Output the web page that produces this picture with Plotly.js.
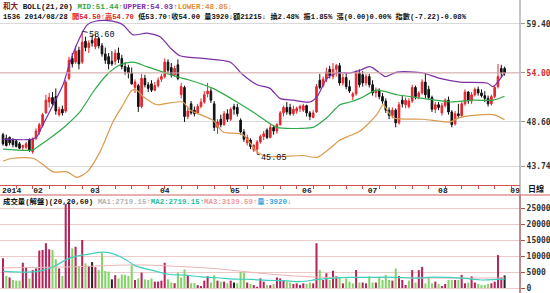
<!DOCTYPE html>
<html><head><meta charset="utf-8">
<script src="https://cdn.plot.ly/plotly-3.0.1.min.js"></script>
<style>html,body{margin:0;padding:0;background:#fff}#c{width:550px;height:293px}</style>
</head><body><div id="c"></div>
<script>
// ---- data ----
const OPEN  = [47.2,46.8,46.9,46.6,46.5,46.2,45.8,45.8,46.6,45.3, 46.8,47.5,48.2,49.6,50.8,51.3,51.4,49.4,50.0,49.8,
  53.4,55.6,55.2,56.5,55.2,57.5,56.8,57.6,56.9,57.8, 57.0,56.1,55.8,55.3,55.3,56.2,55.6,54.7,54.6,54.0,
  52.4,52.6,50.3,53.4,52.7,52.8,52.1,52.6,53.3,53.6, 55.2,54.6,53.8,54.9,51.6,52.4,49.2,50.6,49.9,49.6,
  50.3,50.8,51.7,52.0,50.6,48.0,48.9,48.3,49.5,48.9, 50.3,50.2,48.8,47.5,46.3,46.6,45.5,45.6,46.4,47.0,
  47.7,46.9,48.0,47.6,48.3,49.6,50.2,50.2,49.5,49.8, 50.1,49.9,50.4,49.6,49.1,49.7,53.2,52.6,53.3,54.4,
  53.6,54.4,54.8,52.9,53.5,52.5,51.4,51.7,54.0,53.8, 52.9,53.6,52.7,51.8,52.1,51.4,50.9,49.9,49.3,49.9,
  48.5,51.0,50.5,50.3,50.9,52.4,51.4,51.8,53.0,52.2, 51.3,50.0,50.5,49.6,50.4,51.0,49.7,48.4,49.5,49.3,
  50.6,51.9,50.9,51.6,52.2,51.8,51.5,51.2,50.6,51.4, 52.5,54.5,54.5];
const HIGH  = [47.4,47.2,47.0,46.8,46.7,46.4,46.1,46.4,46.8,46.9, 47.9,48.5,49.6,51.6,51.8,51.9,52.3,50.3,50.4,53.2,
  55.8,56.2,57.0,56.9,58.6,58.0,57.6,58.2,58.3,58.0, 57.3,56.8,56.2,56.4,56.6,56.8,56.0,55.2,54.9,54.6,
  53.3,52.8,53.9,53.8,53.0,53.2,53.0,53.5,53.9,55.6, 55.5,55.1,54.8,55.5,52.9,52.6,50.3,50.9,50.3,50.6,
  51.2,52.0,52.9,52.3,50.9,48.9,49.4,49.8,50.0,50.2, 50.6,50.6,49.0,47.8,47.2,46.8,46.2,46.6,47.2,47.6,
  47.9,48.4,48.2,48.5,49.8,50.4,50.8,50.6,50.4,50.3, 50.5,50.6,50.5,49.8,49.9,52.8,53.9,53.6,54.6,54.8,
  55.1,55.0,55.1,53.9,54.0,53.2,51.9,54.3,54.4,54.2, 53.9,53.9,53.2,52.4,52.3,51.8,51.2,50.2,50.2,50.1,
  50.8,51.5,51.3,51.2,52.7,52.6,52.0,53.3,54.0,52.6, 51.5,50.8,50.8,50.7,51.2,51.4,49.9,49.8,50.6,50.8,
  52.2,52.0,51.9,52.4,52.5,52.2,52.0,51.5,51.6,52.6, 55.0,54.9,54.7];
const LOW   = [46.0,45.9,46.0,45.8,45.8,45.6,45.5,45.6,45.3,45.1, 46.6,47.2,48.0,49.5,50.2,50.4,49.4,49.2,49.3,49.6,
  53.2,54.6,55.0,54.4,55.0,56.4,56.2,56.9,56.6,56.7, 55.8,55.0,54.4,54.8,54.9,55.1,54.4,53.8,53.4,52.7,
  51.8,49.7,50.1,52.4,51.9,51.9,52.0,52.4,53.0,53.4, 54.0,53.5,53.6,53.2,51.2,48.6,48.9,49.4,49.2,49.5,
  50.1,50.6,51.3,50.7,47.6,47.3,48.0,48.2,48.6,48.7, 49.4,49.2,47.2,46.4,46.0,45.6,45.3,45.05,46.2,46.6,
  46.7,46.8,47.2,47.3,48.2,49.2,49.4,49.3,49.3,49.5, 49.7,49.7,49.2,48.8,49.0,49.6,52.2,52.4,53.0,53.4,
  53.3,53.6,52.6,52.6,52.2,51.8,51.0,51.5,52.4,52.5, 52.6,52.4,51.5,51.3,51.1,50.6,49.6,48.9,49.0,48.0,
  48.3,50.2,50.1,50.1,50.7,51.1,51.1,51.6,51.2,51.0, 49.7,49.6,49.9,49.3,50.2,49.4,48.0,48.2,49.0,49.1,
  50.4,50.6,50.6,51.4,51.5,51.3,50.8,50.3,50.4,51.2, 52.3,53.5,53.7];
const CLOSE = [46.2,46.0,46.3,46.1,45.9,45.7,46.0,46.2,45.5,46.7, 47.6,48.3,49.4,51.0,51.3,50.6,49.8,50.0,49.6,53.0,
  55.4,55.0,56.4,55.0,57.4,56.8,57.3,57.3,57.8,57.0, 56.1,55.4,55.0,55.0,56.2,55.5,54.7,54.2,54.0,52.8,
  53.0,50.3,53.4,52.7,52.3,52.1,52.6,53.2,53.6,55.2, 54.3,53.8,54.5,53.4,52.5,49.2,49.8,49.6,49.5,50.3,
  50.8,51.6,52.0,51.0,48.0,48.6,48.3,49.5,48.9,50.0, 50.0,49.5,47.5,46.7,46.9,45.9,46.0,46.4,47.0,47.3,
  46.9,48.0,47.6,48.3,49.6,50.2,49.7,49.5,50.0,50.1, 50.3,50.4,49.6,49.2,49.6,52.5,52.4,53.3,54.1,53.7,
  54.4,54.8,52.9,53.5,52.5,52.0,51.7,54.0,52.7,52.9, 53.6,52.7,51.8,52.1,51.4,50.9,49.9,49.3,49.9,48.5,
  50.5,50.6,51.0,50.9,52.4,51.4,51.8,53.0,51.6,51.3, 50.0,50.5,50.2,50.4,51.0,49.7,48.3,49.5,49.3,50.6,
  51.9,50.9,51.6,52.2,51.8,51.5,51.2,50.6,51.4,52.4, 53.6,54.0,54.0];
const VOLUME = [9300,3750,3300,2500,2300,2300,7900,6500,3000,5600,
  6100,11700,11900,14000,12100,11900,9000,6100,3750,26300,
  26700,12400,12900,6900,15000,7700,6900,8100,6500,5600,
  11000,5300,5100,2700,4000,3000,4200,4100,3750,7100,
  2500,3000,4800,2700,2500,3000,2000,2000,2300,7900,
  2700,1700,1500,4800,3300,5800,4000,1500,1500,900,
  600,2300,3700,1700,4000,2300,2000,2000,1500,2300,
  1700,1500,5000,4800,1700,1300,900,400,3000,2000,
  900,900,1200,
  3300,3000,2500,2000,1700,1250,1450,950,1450,1250,
  1700,1450,14000,5600,2500,4600,2500,5400,3650,3300,
  1450,3000,2000,1450,5600,1700,1700,1450,3650,1700,
  1700,3300,2500,4100,2500,2300,6100,3750,2500,950,
  2300,5600,1700,5600,6600,1450,3300,1450,2000,1250,
  600,1250,2500,2500,2500,2500,4100,1450,1700,3650,
  1700,1250,950,950,1250,1450,2000,10300,3300,3920];
// Bollinger band readings (day index, value)
const UPPER_X = [0,9,10.3,12.1,15.2,18.2,20.3,23.3,25.5,27.9,30.9,34.5,36.4,39.4,43.6,47.6,50.6,53.6,60.6,68.8,72.7,77,80.9,83.9,87.9,93,95.2,98.2,101.2,105.2,108.2,111.2,114.2,115.8,119.4,127.3,132.4,138.5,146.7,148.5,152];
const UPPER_Y = [46.7,46.7,47.0,48.3,50.5,52.7,55.2,57.9,59.3,59.7,59.8,59.6,59.3,58.2,58.4,58.0,56.8,55.9,55.6,55.2,53.8,52.7,52.3,51.2,51.0,50.8,51.4,53.4,54.0,54.0,54.3,54.7,54.0,53.6,54.1,54.0,53.4,53.0,52.9,52.5,54.03];
const MID_X = [0,9,10.3,14.2,19.4,23.3,27.3,31.5,35.5,39.4,43.6,50,53.6,56.7,63.6,70.9,77,83,90.9,93.9,98.2,102.1,105.2,108.2,113.3,119.4,127.3,135.5,142.4,148.5,152];
const MID_Y = [45.6,45.5,45.8,46.8,48.3,49.7,51.9,53.8,54.9,55.2,54.7,53.9,53.5,53.2,52.3,50.8,49.4,48.0,47.9,48.0,49.1,50.5,50.8,51.2,52.1,51.6,51.2,50.8,51.0,51.0,51.44];
const LOWER_X = [0,3,9.1,12.1,15.2,19.4,22.4,25.5,29.4,33.3,36.4,39.1,40.6,42.4,46.7,50.6,54.5,56.7,63.6,66.7,72.7,77,80,90.9,95.2,99.1,102.1,105.2,108.2,113.3,115.2,117.3,118.8,127.3,135.5,138.5,148.5,152];
const LOWER_Y = [44.3,44.6,44.6,43.9,43.1,43.1,42.5,43.1,45.3,48.6,50.5,52.1,52.1,51.4,50.5,50.7,50.8,49.9,48.8,47.5,47.2,45.3,44.8,44.9,44.7,45.7,46.6,47.1,47.6,49.4,50.5,49.4,49.0,48.9,48.6,49.1,49.4,48.85];
// volume moving-average readings
const MA20_X = [0,5,10,15,19,22,26,30,33,37,40,45,50,55,60,65,70,75,80,85,90,95,100,105,110,115,120,125,130,135,140,145,150,152];
const MA20_Y = [5300,5000,5100,6500,8800,9900,10600,11200,10800,9000,7000,5600,4300,4000,3500,3200,2800,2700,2400,2300,2000,2600,3100,3300,3300,3400,3300,3100,3400,3300,3000,2500,2700,2719];
const MA60_X = [0,20,40,50,65,80,95,110,130,152];
const MA60_Y = [6300,6600,7200,6900,6000,4400,3400,3300,3100,3140];
// axis labels
const PRICE_TICKS = [43.74,48.60,54.00,59.40];
const VOL_TICKS = [0,5000,10000,15000,20000,25000];
const MONTH_POS = [2.6,10.6,27.9,49,70.3,92.1,112,133.3,155.2];
const MONTH_TEXT = ['2014','02','03','04','05','06','07','08','09'];

// ---- build ----
const X = CLOSE.map((_, i) => i);
const volColor = CLOSE.map((c, i) => {
  if (i === 0) return '#b5245a';
  if (c > CLOSE[i-1]) return '#b5245a';
  if (c < CLOSE[i-1]) return '#84d26a';
  return '#222222';
});
const MONO = "'Liberation Mono','Noto Sans CJK TC',monospace";
const traces = [
  {type:'scatter', mode:'lines', x:UPPER_X, y:UPPER_Y, line:{color:'#7b2fa6', width:1.2, shape:'spline', smoothing:0.7}, xaxis:'x', yaxis:'y'},
  {type:'scatter', mode:'lines', x:MID_X, y:MID_Y, line:{color:'#2faa48', width:1.2, shape:'spline', smoothing:0.7}, xaxis:'x', yaxis:'y'},
  {type:'scatter', mode:'lines', x:LOWER_X, y:LOWER_Y, line:{color:'#d99a4e', width:1.2, shape:'spline', smoothing:0.7}, xaxis:'x', yaxis:'y'},
  {type:'candlestick', x:X, open:OPEN, high:HIGH, low:LOW, close:CLOSE, xaxis:'x', yaxis:'y',
   increasing:{line:{color:'#e4262f', width:1}, fillcolor:'#e4262f'},
   decreasing:{line:{color:'#111111', width:1}, fillcolor:'#111111'}, whiskerwidth:0},
  {type:'bar', x:X, y:VOLUME, marker:{color:volColor, line:{width:0}}, width:0.62, xaxis:'x', yaxis:'y2'},
  {type:'scatter', mode:'lines', x:MA60_X, y:MA60_Y, line:{color:'#ebb4b4', width:1, shape:'spline'}, xaxis:'x', yaxis:'y2'},
  {type:'scatter', mode:'lines', x:MA20_X, y:MA20_Y, line:{color:'#3fd0be', width:1.2, shape:'spline'}, xaxis:'x', yaxis:'y2'}
];
const py = p => 1 - p/293;
const px = p => p/520;
const sp = (c, t) => '<span style="color:' + c + '">' + t + '</span>';
const annotations = [
  {xref:'paper', yref:'paper', x:px(1), y:py(6), xanchor:'left', yanchor:'middle', showarrow:false,
   font:{family:MONO, size:7.6, color:'#111', weight:'bold'},
   text: sp('#8b1a1a','和大') + ' BOLL(21,20) ' + sp('#2faa48','MID:51.44↑') + sp('#7b2fa6','UPPER:54.03↑') + sp('#e0903a','LOWER:48.85↓')},
  {xref:'paper', yref:'paper', x:px(1), y:py(16), xanchor:'left', yanchor:'middle', showarrow:false,
   font:{family:MONO, size:7.2, color:'#111', weight:'bold'},
   text: '1536 2014/08/28 ' + sp('#e02020','開54.50↑高54.70') + ' 低53.70↑收54.00 量3920↓額21215↓ 換2.48% 振1.85% 漲(0.00)0.00% 指數(-7.22)-0.08%'},
  {xref:'paper', yref:'paper', x:px(1), y:py(201), xanchor:'left', yanchor:'middle', showarrow:false,
   font:{family:MONO, size:7.4, color:'#111', weight:'bold'},
   text: '成交量(解盤)(20,20,60) ' + sp('#b4b4b4','MA1:2719.15↑') + sp('#22c2a2','MA2:2719.15↑') + sp('#f09a9a','MA3:3139.59↑') + sp('#34a8e0','量:3920↓')},
  {xref:'paper', yref:'paper', x:px(526), y:py(189), xanchor:'left', yanchor:'middle', showarrow:false,
   font:{family:MONO, size:8, color:'#111', weight:'bold'}, text:'日線'},
  {xref:'x', yref:'y', x:24, y:58.6, text:'58.60', showarrow:true, arrowhead:0, arrowwidth:1, arrowcolor:'#333', ax:20, ay:4, standoff:0,
   font:{family:MONO, size:8.5, color:'#111'}},
  {xref:'x', yref:'y', x:77, y:45.05, text:'45.05', showarrow:true, arrowhead:0, arrowwidth:1, arrowcolor:'#333', ax:17, ay:4, standoff:0,
   font:{family:MONO, size:8.5, color:'#111'}}
];
const shapes = [
  {type:'line', xref:'paper', yref:'paper', x0:1, x1:1, y0:0, y1:1, line:{color:'#8a8a8a', width:1}},
  {type:'line', xref:'paper', yref:'y', x0:0, x1:1, y0:54, y1:54, line:{color:'#e2b0b0', width:1}},
  {type:'line', xref:'paper', yref:'paper', x0:0, x1:1.06, y0:py(195), y1:py(195), line:{color:'#d06060', width:1}},
  {type:'line', xref:'paper', yref:'paper', x0:1, x1:1, y0:0, y1:py(195), line:{color:'#c04848', width:1}}
];
const tickFont = {family:"'DejaVu Sans Mono',monospace", size:8, color:'#333', weight:'bold'};
const layout = {
  width:550, height:293, margin:{l:0, r:30, t:0, b:0}, paper_bgcolor:'#fff', plot_bgcolor:'#fff', showlegend:false,
  xaxis:{range:[-0.91,156.67], anchor:'y', tickmode:'array', tickvals:MONTH_POS, ticktext:MONTH_TEXT, ticks:'',
    ticklabeloverflow:'allow', ticklabelstandoff:-3,
    tickfont:{family:MONO, size:8, color:'#222', weight:'bold'}, showline:true, linecolor:'#d05050', linewidth:1,
    showgrid:false, zeroline:false, rangeslider:{visible:false}, fixedrange:true,
    minor:{tickmode:'linear', tick0:9, dtick:5, ticks:'outside', ticklen:3, tickcolor:'#d05050', showgrid:false}},
  yaxis:{domain:[py(185), py(17)], range:[41.65,60.17], side:'right', anchor:'x', tickmode:'array', tickvals:PRICE_TICKS,
    ticktext:['43.74','48.60','<span style="color:#d03030">54.00</span>','59.40'], showgrid:true, gridcolor:'#d9d9d9',
    ticks:'outside', ticklen:4, tickcolor:'#999', showline:false, zeroline:false, tickfont:tickFont, fixedrange:true},
  yaxis2:{domain:[py(291), py(196)], range:[-937,28750], side:'right', anchor:'x', tickmode:'array', tickvals:VOL_TICKS,
    ticktext:VOL_TICKS.map(String), showgrid:true, gridcolor:'#eccaca', ticks:'outside', ticklen:4, tickcolor:'#c04848',
    showline:false, zeroline:false, tickfont:tickFont, fixedrange:true},
  annotations:annotations, shapes:shapes, bargap:0.3
};
Plotly.newPlot('c', traces, layout, {staticPlot:true, displayModeBar:false});
</script></body></html>
